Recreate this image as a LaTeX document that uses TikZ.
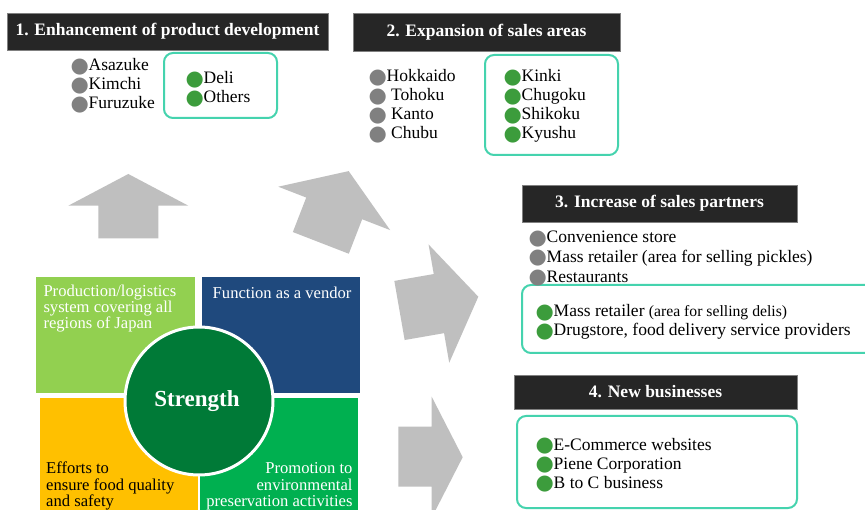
\documentclass[tikz,border=0pt]{standalone}
\usepackage{fontspec}
\setmainfont{Liberation Serif}
\newfontfamily\dotfont{DejaVu Sans}
\definecolor{titlebg}{HTML}{262626}
\definecolor{framecol}{HTML}{45D3AE}
\definecolor{dotgray}{HTML}{808080}
\definecolor{dotgreen}{HTML}{3C9C3C}
\definecolor{arrowgray}{HTML}{BFBFBF}
\definecolor{qlime}{HTML}{92D050}
\definecolor{qblue}{HTML}{1F497D}
\definecolor{qamber}{HTML}{FFC000}
\definecolor{qgreen}{HTML}{00B050}
\definecolor{corecol}{HTML}{007A37}
% round list markers
\newcommand{\listdot}[1]{\makebox[16.5pt][l]{\hspace{-1.5pt}\raisebox{-1.4pt}{\dotfont\fontsize{21}{21}\selectfont\textcolor{#1}{●}}}}
\newcommand{\graydot}{\listdot{dotgray}}
\newcommand{\greendot}{\listdot{dotgreen}}
\begin{document}
\begin{tikzpicture}[x=1pt,y=-1pt,
  heading/.style={fill=titlebg, draw=gray, line width=0.6pt, text=white,
    font=\bfseries\fontsize{17.5}{20}\selectfont, inner sep=0pt},
  framebox/.style={draw=framecol, line width=2pt, rounded corners=9pt},
  item/.style={anchor=base west, inner sep=0pt, font=\fontsize{17.5}{20}\selectfont},
  quadtext/.style={inner sep=0pt, text=white, font=\fontsize{16.6}{18}\selectfont},
  bigarrow/.style={fill=arrowgray}]
\useasboundingbox (0,0) rectangle (865,510);
\fill[white] (0,0) rectangle (865,510);

% ---- growth arrows ----
\fill[bigarrow] (128.3,174) -- (188.3,205.7) -- (158.3,205.7) -- (158.3,238.3)
  -- (98.3,238.3) -- (98.3,205.7) -- (68.3,205.7) -- cycle;
\begin{scope}[shift={(334.2,208.4)}, rotate=-21.2]
  \fill[bigarrow] (0,-40) -- (60,0) -- (30,0) -- (30,37) -- (-30,37) -- (-30,0) -- (-60,0) -- cycle;
\end{scope}
\begin{scope}[shift={(438.9,303.6)}, rotate=-80.1]
  \fill[bigarrow] (0,-40) -- (60,0) -- (30,0) -- (30,40) -- (-30,40) -- (-30,0) -- (-60,0) -- cycle;
\end{scope}
\fill[bigarrow] (462.7,457.2) -- (431.7,517.7) -- (431.7,486.7) -- (398.3,486.7)
  -- (398.3,426.7) -- (431.7,426.7) -- (431.7,396.7) -- cycle;

% ---- strength quadrants ----
\fill[qlime]  (36,276.7) rectangle (195,392.7);
\fill[qblue]  (201.7,276.7) rectangle (360,392.7);
\fill[qamber] (40,398) rectangle (198,515);
\fill[qgreen] (200,398) rectangle (358,515);
\node[circle, fill=corecol, draw=white, line width=3pt, minimum size=148pt, inner sep=0pt] (core) at (199,401) {};
\node[inner sep=0pt, text=white, font=\bfseries\fontsize{23}{23}\selectfont] (strength) at (197,401) {Strength};

\node[quadtext, anchor=base west] (pl1) at (43.3,296.7) {Production/logistics};
\node[quadtext, anchor=base west] (pl2) at (43.3,312.3) {system covering all};
\node[quadtext, anchor=base west] (pl3) at (43.3,328.3) {regions of Japan};
\node[quadtext, anchor=base east] (fv1) at (351.7,298.3) {Function as a vendor};
\node[quadtext, anchor=base west, text=black] (ef1) at (46,474) {Efforts to};
\node[quadtext, anchor=base west, text=black] (ef2) at (46,490) {ensure food quality};
\node[quadtext, anchor=base west, text=black] (ef3) at (46,506) {and safety};
\node[quadtext, anchor=base east] (pr1) at (352.7,474) {Promotion to};
\node[quadtext, anchor=base east] (pr2) at (352.7,490) {environmental};
\node[quadtext, anchor=base east] (pr3) at (352.7,506) {preservation activities};

% ---- headings ----
\node[heading, minimum width=321pt, minimum height=37pt] (h1) at (167.5,31.5) {1. Enhancement of product development};
\node[heading, minimum width=267pt, minimum height=38pt] (h2) at (486.5,32) {2. Expansion of sales areas};
\node[heading, minimum width=275pt, minimum height=37pt] (h3) at (659.5,203.5) {3. Increase of sales partners};
\node[heading, minimum width=283pt, minimum height=34pt] (h4) at (655.5,392) {4. New businesses};

% ---- framed groups ----
\draw[framebox] (164,53) rectangle (277,118);
\draw[framebox] (485,55) rectangle (618,155);
\draw[framebox] (522,285) rectangle (880,353);
\draw[framebox] (517,416) rectangle (797,508);

% ---- 1. product development ----
\node[item] (p1) at (72,71) {\graydot Asazuke};
\node[item] (p2) at (72,90) {\graydot Kimchi};
\node[item] (p3) at (72,109) {\graydot Furuzuke};
\node[item] (p4) at (187,84) {\greendot Deli};
\node[item] (p5) at (187,103) {\greendot Others};

% ---- 2. sales areas ----
\node[item] (a1) at (370,81.7) {\graydot Hokkaido};
\node[item] (a2) at (370,100.7) {\graydot{} Tohoku};
\node[item] (a3) at (370,120) {\graydot{} Kanto};
\node[item] (a4) at (370,139) {\graydot{} Chubu};
\node[item] (a5) at (505,81.7) {\greendot Kinki};
\node[item] (a6) at (505,100.7) {\greendot Chugoku};
\node[item] (a7) at (505,120) {\greendot Shikoku};
\node[item] (a8) at (505,139) {\greendot Kyushu};

% ---- 3. sales partners ----
\node[item] (s1) at (530,243) {\graydot Convenience store};
\node[item] (s2) at (530,262.5) {\graydot Mass retailer (area for selling pickles)};
\node[item] (s3) at (530,282.3) {\graydot Restaurants};
\node[item] (s4) at (537,316.7) {\greendot Mass retailer {\fontsize{15.7}{15.7}\selectfont(area for selling delis)}};
\node[item] (s5) at (537,335.7) {\greendot Drugstore, food delivery service providers};

% ---- 4. new businesses ----
\node[item] (n1) at (537,450) {\greendot E-Commerce websites};
\node[item] (n2) at (537,469) {\greendot Piene Corporation};
\node[item] (n3) at (537,488.3) {\greendot B to C business};
\end{tikzpicture}
\end{document}
